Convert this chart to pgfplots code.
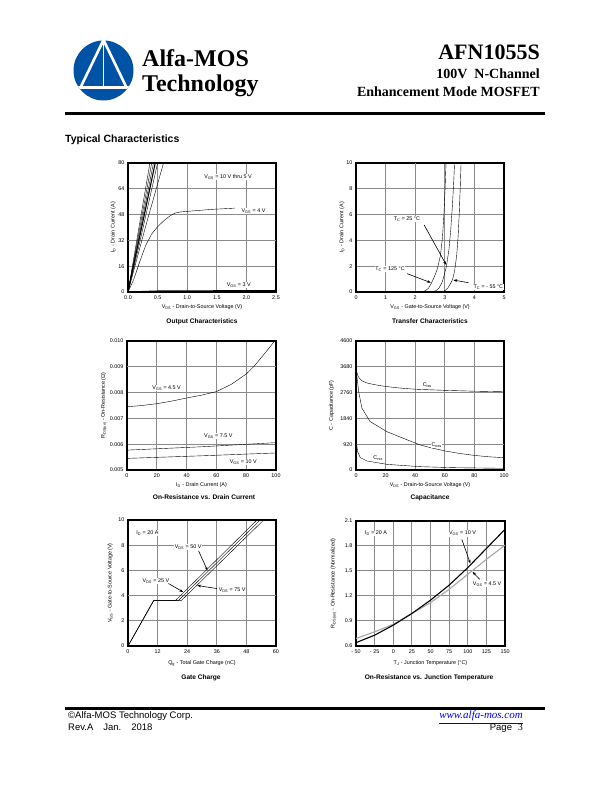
\documentclass[border=0pt]{standalone}
\usepackage{fontspec}
\setmainfont{Liberation Sans}
\newfontfamily\timesfont{Liberation Serif}
\usepackage{pgfplots}
\pgfplotsset{compat=1.18}
\usetikzlibrary{arrows.meta}

\definecolor{logoblue}{RGB}{0,82,164}
\definecolor{linkblue}{RGB}{0,0,238}
\definecolor{gridgray}{RGB}{138,138,138}

\newcommand\sm{\fontsize{5.4}{6.2}\selectfont}

\pgfplotsset{
  sheet/.style={
    scale only axis, anchor=south west,
    axis line style={line width=1.2pt},
    grid=major, major grid style={gridgray, line width=1pt},
    major tick length=0pt,
    tick label style={font=\sm},
    label style={font=\sm},
    /pgf/number format/assume math mode=true,
    /pgf/number format/1000 sep={},
    scaled ticks=false,
    cycle list={{black, solid, mark=none, line width=1.1pt}},
    xlabel style={at={(axis description cs:0.5,-0.12)}, anchor=center},
  },
  dark/.style={extra tick style={grid style={black, line width=1pt}}},
}
\tikzset{
  arr/.style={-{Stealth[length=3.8pt,width=2.8pt]}, line width=0.6pt},
  lab/.style={font=\sm, fill=white, inner sep=0.6pt},
}

\begin{document}
\begin{tikzpicture}
\path[use as bounding box, fill=white] (0pt,0pt) rectangle (612pt,792pt);

\begin{scope}[x=1pt,y=1pt]
  % logo
  \fill[logoblue] (103.5,721.5) circle (30);
  \begin{scope}
    \clip (103.5,721.5) circle (30);
    \fill[white] (70,703) rectangle (140,706.3);
  \end{scope}
  \draw[white, line width=2.6pt] (80.5,704.5) -- (103.5,752);
  \draw[white, line width=2.6pt] (126.5,704.5) -- (103.5,752);
  \draw[white, line width=1.8pt] (103.5,750) -- (103.5,705);

  \node[anchor=base west, inner sep=0, font=\timesfont\bfseries\fontsize{24}{24}\selectfont] at (142,725.5) {Alfa-MOS};
  \node[anchor=base west, inner sep=0, font=\timesfont\bfseries\fontsize{24}{24}\selectfont] at (142,700) {Technology};
  \node[anchor=base east, inner sep=0, font=\timesfont\bfseries\fontsize{22}{22}\selectfont] at (540,732.5) {AFN1055S};
  \node[anchor=base east, inner sep=0, font=\timesfont\bfseries\fontsize{14}{14}\selectfont] at (540,713) {100V\ \ N-Channel};
  \node[anchor=base east, inner sep=0, font=\timesfont\bfseries\fontsize{14}{14}\selectfont] at (540,695) {Enhancement Mode MOSFET};

  \fill[black] (65,676.5) rectangle (545,679.5);
  \node[anchor=base west, inner sep=0, font=\bfseries\fontsize{10.5}{12}\selectfont] at (65,649.3) {Typical Characteristics};

  % chart titles
  \begin{scope}[every node/.style={anchor=base, inner sep=0, font=\bfseries\fontsize{6.6}{8}\selectfont}]
    \node at (202,468.5) {Output Characteristics};
    \node at (430,468.5) {Transfer Characteristics};
    \node at (204,292.5) {On-Resistance vs. Drain Current};
    \node at (430,292.5) {Capacitance};
    \node at (201,112.5) {Gate Charge};
    \node at (429,112.5) {On-Resistance vs. Junction Temperature};
  \end{scope}

  % footer
  \fill[black] (65,82) rectangle (545,85);
  \node[anchor=base west, inner sep=0, font=\fontsize{9.5}{11}\selectfont] at (68,73) {©Alfa-MOS Technology Corp.};
  \node[anchor=base west, inner sep=0, font=\fontsize{9.5}{11}\selectfont] at (68,61) {Rev.A\hspace{10pt}Jan.\hspace{10pt}2018};
  \node[anchor=base east, inner sep=0, text=linkblue, font=\timesfont\itshape\fontsize{11}{12}\selectfont] at (523,73) {\underline{www.alfa-mos.com}};
  \node[anchor=base east, inner sep=0, font=\fontsize{9.5}{11}\selectfont] at (523,61) {Page\hspace{6pt}{\timesfont 3}};
\end{scope}

% ---------- Output characteristics
\begin{axis}[sheet, at={(128pt,500pt)}, width=148pt, height=129pt,
  xmin=0, xmax=2.5, ymin=0, ymax=80,
  xtick={0,0.5,1,1.5,2,2.5}, ytick={0,16,32,48,64,80},
  xticklabel style={/pgf/number format/.cd, fixed, fixed zerofill, precision=1},
  dark, extra y ticks={32}, extra y tick labels={},
  xlabel={V\textsubscript{DS} - Drain-to-Source Voltage (V)},
  ylabel={I\textsubscript{D} - Drain Current (A)},
  ylabel style={at={(axis description cs:-0.1,0.5)}, anchor=center},
]
\addplot coordinates {(0,0) (0.37,80)};
\addplot coordinates {(0,0) (0.40,80)};
\addplot coordinates {(0,0) (0.43,80)};
\addplot coordinates {(0,0) (0.46,80)};
\addplot coordinates {(0,0) (0.2,31) (0.5,80)};
\addplot coordinates {(0,0) (0.3,41) (0.6,80)};
\addplot coordinates {(0,0) (0.1,8) (0.2,19) (0.3,29) (0.4,36) (0.5,40.5) (0.6,44) (0.7,47) (0.8,49) (0.9,49.7) (1.0,50) (1.2,50.6) (1.4,51.2) (1.6,51.6) (1.8,52)};
\addplot coordinates {(0,0) (0.5,0.6) (2.5,0.9)};
\node[lab] at (axis cs:1.69,71.5) {V\textsubscript{GS} = 10 V thru 5 V};
\node[lab] at (axis cs:2.12,50.2) {V\textsubscript{GS} = 4 V};
\node[lab] at (axis cs:1.87,4.3) {V\textsubscript{GS} = 3 V};
\end{axis}

% ---------- Transfer characteristics
\begin{axis}[sheet, at={(356pt,500pt)}, width=148pt, height=129pt,
  xmin=0, xmax=5, ymin=0, ymax=10,
  xtick={0,1,...,5}, ytick={0,2,...,10},
  dark, extra x ticks={2}, extra x tick labels={},
  xlabel={V\textsubscript{GS} - Gate-to-Source Voltage (V)},
  ylabel={I\textsubscript{D} - Drain Current (A)},
  ylabel style={at={(axis description cs:-0.095,0.5)}, anchor=center},
]
\addplot coordinates {(2.2,0) (2.35,0.1) (2.45,0.3) (2.55,0.7) (2.65,1.2) (2.75,1.8) (2.85,2.8) (2.92,4.2) (2.97,6) (3.01,8) (3.04,10)};
\addplot coordinates {(2.55,0) (2.7,0.1) (2.8,0.3) (2.9,0.7) (2.98,1.3) (3.06,2.05) (3.14,3.3) (3.2,4.8) (3.26,6.8) (3.3,8.5) (3.33,10)};
\addplot coordinates {(2.9,0) (3.0,0.1) (3.1,0.3) (3.18,0.6) (3.26,0.95) (3.33,1.6) (3.4,2.8) (3.45,4.3) (3.49,6.2) (3.52,8) (3.55,10)};
\addplot coordinates {(0,0) (2.2,0)};
\node[lab] at (axis cs:1.72,5.67) {T\textsubscript{C} = 25 °C};
\node[lab] at (axis cs:1.15,1.77) {T\textsubscript{C} = 125 °C};
\node[lab] at (axis cs:4.47,0.41) {T\textsubscript{C} = - 55 °C};
\draw[arr] (axis cs:2.3,5.2) -- (axis cs:3.05,2.1);
\draw[arr] (axis cs:1.73,1.42) -- (axis cs:2.53,0.72);
\draw[arr] (axis cs:3.8,0.72) -- (axis cs:3.29,0.93);
\end{axis}

% ---------- On-resistance vs drain current
\begin{axis}[sheet, at={(127pt,322pt)}, width=149pt, height=129pt,
  xmin=0, xmax=100, ymin=0.005, ymax=0.010,
  xtick={0,20,...,100}, ytick={0.005,0.006,0.007,0.008,0.009,0.010},
  yticklabel style={/pgf/number format/.cd, fixed, fixed zerofill, precision=3},
  dark, extra y ticks={0.009}, extra y tick labels={},
  xlabel={I\textsubscript{D} - Drain Current (A)},
  ylabel={R\textsubscript{DS(on)} - On-Resistance (Ω)},
  ylabel style={at={(axis description cs:-0.155,0.5)}, anchor=center},
]
\addplot coordinates {(0,0.00745) (10,0.0075) (20,0.00757) (30,0.00767) (40,0.00779) (50,0.0079) (60,0.00804) (70,0.00832) (80,0.00872) (85,0.009) (90,0.00935) (95,0.0097) (99,0.01)};
\addplot coordinates {(0,0.00577) (50,0.0059) (100,0.00606)};
\addplot coordinates {(0,0.00545) (50,0.00555) (100,0.00566)};
\node[lab] at (axis cs:26.6,0.00819) {V\textsubscript{GS} = 4.5 V};
\node[lab] at (axis cs:61.3,0.00633) {V\textsubscript{GS} = 7.5 V};
\node[lab] at (axis cs:78,0.0053) {V\textsubscript{GS} = 10 V};
\end{axis}

% ---------- Capacitance
\begin{axis}[sheet, at={(356pt,322pt)}, width=148pt, height=129pt,
  xmin=0, xmax=100, ymin=0, ymax=4600,
  xtick={0,20,...,100}, ytick={0,920,1840,2760,3680,4600},
  dark, extra y ticks={920}, extra y tick labels={},
  xlabel={V\textsubscript{DS} - Drain-to-Source Voltage (V)},
  ylabel={C - Capacitance (pF)},
  ylabel style={at={(axis description cs:-0.165,0.5)}, anchor=center},
]
\addplot coordinates {(0.3,3550) (1,3400) (2,3290) (4,3180) (7,3110) (10,3070) (15,3020) (20,2980) (30,2920) (40,2880) (60,2840) (80,2810) (100,2790)};
\addplot coordinates {(0.3,3550) (0.7,3300) (1.8,2794) (4,2200) (9.6,1724) (20.9,1367) (32,1130) (43,900) (50,800) (60,680) (70,590) (80,520) (90,470) (100,440)};
\addplot coordinates {(0.2,1010) (1.1,654) (2.9,440) (7.4,321) (20.9,202) (43,119) (65.7,83) (100,60)};
\node[lab] at (axis cs:48.2,3031) {C\textsubscript{iss}};
\node[lab] at (axis cs:54.5,891) {C\textsubscript{oss}};
\node[lab] at (axis cs:15,417) {C\textsubscript{rss}};
\end{axis}

% ---------- Gate charge
\begin{axis}[sheet, at={(128pt,146pt)}, width=148pt, height=126pt,
  xmin=0, xmax=60, ymin=0, ymax=10,
  xtick={0,12,...,60}, ytick={0,2,...,10},
  dark, extra y ticks={4}, extra y tick labels={},
  xlabel={Q\textsubscript{g} - Total Gate Charge (nC)},
  ylabel={V\textsubscript{GS} - Gate-to-Source Voltage (V)},
  ylabel style={at={(axis description cs:-0.12,0.5)}, anchor=center},
  xlabel style={at={(axis description cs:0.5,-0.135)}},
]
\addplot coordinates {(0,0) (10.4,3.6) (19.2,3.6) (20.5,3.85) (52.3,10)};
\addplot coordinates {(0,0) (10.4,3.6) (20.4,3.6) (21.7,3.85) (53.6,10)};
\addplot coordinates {(0,0) (10.4,3.6) (21.6,3.6) (22.9,3.85) (55,10)};
\node[lab, anchor=west] at (axis cs:3.1,8.94) {I\textsubscript{D} = 20 A};
\node[lab] at (axis cs:24.4,7.83) {V\textsubscript{DS} = 50 V};
\node[lab] at (axis cs:11.3,5.18) {V\textsubscript{DS} = 25 V};
\node[lab] at (axis cs:42.2,4.44) {V\textsubscript{DS} = 75 V};
\draw[arr] (axis cs:28.6,7.56) -- (axis cs:32.2,6.0);
\draw[arr] (axis cs:16.4,4.96) -- (axis cs:22.4,4.28);
\draw[arr] (axis cs:36,4.56) -- (axis cs:28.1,4.8);
\end{axis}

% ---------- On-resistance vs junction temperature
\begin{axis}[sheet, at={(356pt,146pt)}, width=149pt, height=125pt,
  xmin=-50, xmax=150, ymin=0.6, ymax=2.1,
  xtick={-50,-25,...,150}, xticklabels={- 50,- 25,0,25,50,75,100,125,150},
  ytick={0.6,0.9,1.2,1.5,1.8,2.1},
  yticklabel style={/pgf/number format/.cd, fixed, fixed zerofill, precision=1},
  xlabel={T\textsubscript{J} - Junction Temperature (°C)},
  ylabel={R\textsubscript{DS(on)} - On-Resistance (Normalized)},
  ylabel style={at={(axis description cs:-0.15,0.5)}, anchor=center},
  xlabel style={at={(axis description cs:0.5,-0.14)}},
]
\addplot[gray!70, line width=1.1pt] coordinates {(-50,0.69) (-25,0.77) (0,0.86) (25,0.99) (50,1.12) (75,1.28) (100,1.46) (125,1.64) (150,1.81)};
\addplot[black, line width=1.1pt] coordinates {(-50,0.64) (-25,0.73) (0,0.85) (25,0.99) (50,1.15) (75,1.33) (100,1.54) (125,1.77) (150,2.0)};
\node[lab, anchor=west] at (axis cs:-38.9,1.95) {I\textsubscript{D} = 20 A};
\node[lab] at (axis cs:93,1.95) {V\textsubscript{GS} = 10 V};
\node[lab] at (axis cs:126,1.344) {V\textsubscript{GS} = 4.5 V};
\draw[arr] (axis cs:92,1.88) -- (axis cs:103.5,1.59);
\draw[arr] (axis cs:116,1.40) -- (axis cs:106.5,1.49);
\end{axis}
\end{tikzpicture}
\end{document}
